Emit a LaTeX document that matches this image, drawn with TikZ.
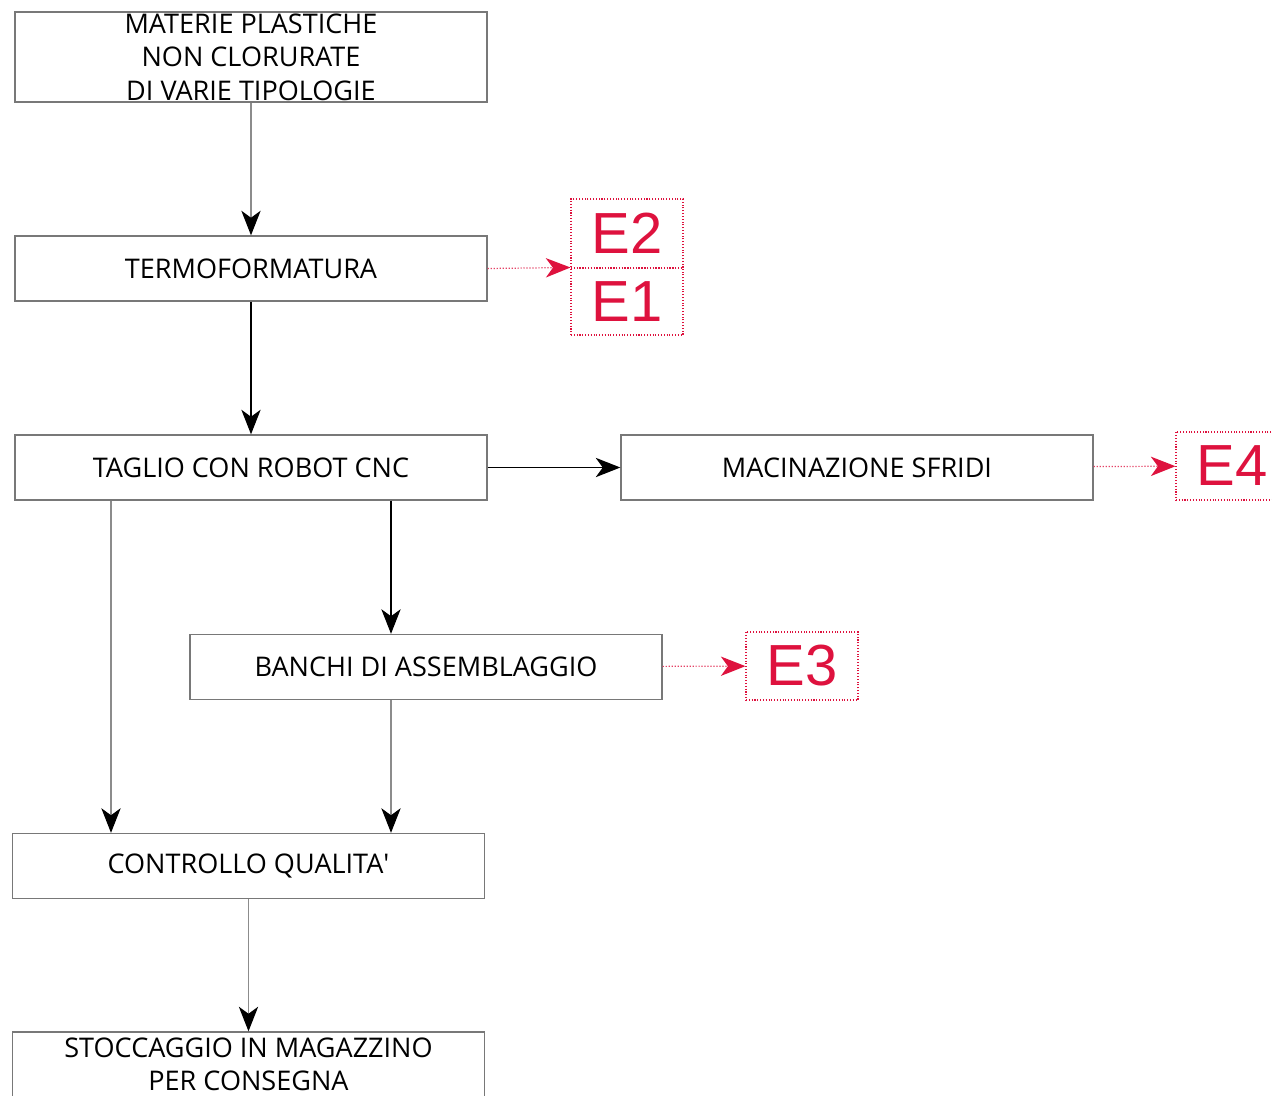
\documentclass[tikz,border=0pt]{standalone}
\usepackage{fontspec}
\setmainfont{Open Sans}
\newfontfamily\efont{Liberation Sans}
\usetikzlibrary{arrows.meta}
\definecolor{ered}{RGB}{222,18,62}
\definecolor{boxgray}{RGB}{120,120,120}
\definecolor{linegray}{RGB}{140,140,140}
\tikzset{
    fase/.style={draw=boxgray, line width=0.8pt, fill=white, minimum width=9.44cm,
        minimum height=1.3cm, inner sep=0pt, align=center,
        font=\fontsize{15.4}{19}\selectfont},
    ebox/.style={draw=ered, densely dotted, line width=0.6pt, text=ered,
        minimum width=2.24cm, minimum height=1.36cm, inner sep=0pt,
        font=\efont\fontsize{33}{33}\selectfont},
    freccia/.style={-{Stealth[length=14pt,width=11pt,inset=4pt,color=black]}, line width=0.7pt},
    rossa/.style={-{Stealth[length=14pt,width=11pt,inset=4pt,color=ered]}, draw=ered!80,
        densely dotted, line width=0.7pt},
}
\begin{document}
\begin{tikzpicture}[x=0.02cm, y=-0.02cm]
            \useasboundingbox[fill=white] (0,0) rectangle (1272,1096);
            % fasi del processo
            \node[fase, minimum height=1.8cm] (materie) at (251,57) {MATERIE PLASTICHE\\NON CLORURATE\\DI VARIE TIPOLOGIE};
            \node[fase] (termo) at (251,268.5) {TERMOFORMATURA};
            \node[fase] (taglio) at (251,467.5) {TAGLIO CON ROBOT CNC};
            \node[fase] (macina) at (857,467.5) {MACINAZIONE SFRIDI};
            \node[fase] (banchi) at (426,667) {BANCHI DI ASSEMBLAGGIO};
            \node[fase] (controllo) at (248.5,866) {CONTROLLO QUALITA\textquotesingle};
            \node[fase] (stocc) at (248.5,1064.5) {STOCCAGGIO IN MAGAZZINO\\PER CONSEGNA};
            % emissioni
            \node[ebox, minimum height=1.38cm] (e2) at (627,233.5) {E2};
            \node[ebox, minimum height=1.34cm] (e1) at (627,301.5) {E1};
            \node[ebox] (e4) at (1232,466) {E4};
            \node[ebox] (e3) at (802,666) {E3};
            \coordinate (sx) at (111,0);
            \coordinate (dx) at (391,0);
            % frecce
            \draw[freccia, linegray] (materie) -- (termo);
            \draw[freccia] (termo) -- (taglio);
            \draw[freccia] (taglio) -- (macina);
            \draw[freccia] (taglio.south -| dx) -- (banchi.north -| dx);
            \draw[freccia, linegray] (taglio.south -| sx) -- (controllo.north -| sx);
            \draw[freccia, linegray] (banchi.south -| dx) -- (controllo.north -| dx);
            \draw[freccia, linegray] (controllo) -- (stocc);
            \draw[rossa] (termo.east) -- (e1.north west);
            \draw[rossa] (macina) -- (e4);
            \draw[rossa] (banchi) -- (e3);
        \end{tikzpicture}
\end{document}
